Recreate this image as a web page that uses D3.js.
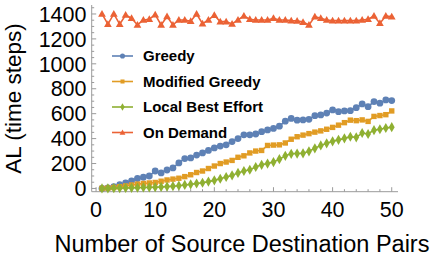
<!DOCTYPE html>
<html><head><meta charset="utf-8">
<script src="https://cdn.jsdelivr.net/npm/d3@7/dist/d3.min.js"></script>
<style>body{margin:0;background:#fff}svg{display:block}</style>
</head><body>
<svg id="c" width="436" height="258"></svg>
<script>
const pairs = d3.range(1, 51);
const greedy = [0,5,14,30,45,60,80,90,100,140,125,148,165,205,240,245,268,285,305,325,340,350,376,400,430,430,437,456,470,482,500,540,562,548,550,555,584,590,605,630,616,622,624,648,678,656,697,684,710,705];
const modifiedGreedy = [0,3,8,14,20,28,35,40,44,48,58,68,75,82,95,110,128,140,160,180,200,212,225,250,262,285,300,305,345,348,350,365,395,415,428,440,452,462,475,490,508,528,548,544,550,538,578,585,592,622];
const localBestEffort = [0,1,2,3,4,5,6,8,9,10,12,15,18,22,28,33,40,46,55,65,78,92,105,125,140,150,172,190,200,212,235,262,278,280,282,298,322,345,362,378,390,402,415,410,445,437,468,475,485,492];
const onDemand = [1400,1318,1400,1318,1392,1366,1312,1352,1358,1395,1312,1380,1312,1352,1352,1342,1400,1322,1352,1390,1339,1339,1320,1352,1384,1358,1352,1352,1352,1366,1352,1352,1347,1345,1335,1312,1379,1366,1352,1347,1347,1347,1347,1347,1352,1358,1384,1326,1384,1379];
const seriesNames = ["Greedy","Modified Greedy","Local Best Effort","On Demand"];
const colors = ["#5E81B5","#E19C24","#8FB032","#EB6235"];
const xTicks = [0,10,20,30,40,50];
const yTicks = [0,200,400,600,800,1000,1200,1400];
const xTitle = "Number of Source Destination Pairs";
const yTitle = "AL (time steps)";

const svg = d3.select("#c");
const x = d3.scaleLinear().domain([-0.74, 51.06]).range([91.7, 398]);
const y = d3.scaleLinear().domain([-26, 1472]).range([191.7, 5]);
const axisColor = "#9a9a9a";
const font = "'Liberation Sans', Arial, sans-serif";

// axes lines
svg.append("line").attr("x1", x.range()[0]).attr("x2", x.range()[1]).attr("y1", y.range()[0]).attr("y2", y.range()[0]).attr("stroke", axisColor).attr("stroke-width", 1);
svg.append("line").attr("x1", x.range()[0]).attr("x2", x.range()[0]).attr("y1", y.range()[0]).attr("y2", y.range()[1]).attr("stroke", axisColor).attr("stroke-width", 1);

// x ticks
const xMinor = d3.range(0, 51, 2).filter(v => v % 10 !== 0);
svg.selectAll(".xt").data(xTicks).join("line").attr("x1", d => x(d)).attr("x2", d => x(d)).attr("y1", y.range()[0]).attr("y2", y.range()[0] - 4.5).attr("stroke", axisColor);
svg.selectAll(".xm").data(xMinor).join("line").attr("x1", d => x(d)).attr("x2", d => x(d)).attr("y1", y.range()[0]).attr("y2", y.range()[0] - 2.5).attr("stroke", axisColor);
svg.selectAll(".xl").data(xTicks).join("text").attr("x", d => x(d)).attr("y", 216.5).attr("text-anchor", "middle").attr("font-family", font).attr("font-size", 21.5).attr("fill", "#000").text(d => d);

// y ticks
const yMinor = d3.range(0, 1451, 50).filter(v => v % 200 !== 0);
svg.selectAll(".yt").data(yTicks).join("line").attr("x1", x.range()[0]).attr("x2", x.range()[0] + 4.5).attr("y1", d => y(d)).attr("y2", d => y(d)).attr("stroke", axisColor);
svg.selectAll(".ym").data(yMinor).join("line").attr("x1", x.range()[0]).attr("x2", x.range()[0] + 2.5).attr("y1", d => y(d)).attr("y2", d => y(d)).attr("stroke", axisColor);
svg.selectAll(".yl").data(yTicks).join("text").attr("x", 86.5).attr("y", d => y(d)).attr("dy", "0.36em").attr("text-anchor", "end").attr("font-family", font).attr("font-size", 21.5).attr("fill", "#000").text(d => d);

// titles
svg.append("text").attr("x", 242).attr("y", 251.5).attr("text-anchor", "middle").attr("font-family", font).attr("font-size", 23.5).attr("fill", "#000").text(xTitle);
svg.append("text").attr("transform", "translate(21,98.5) rotate(-90)").attr("text-anchor", "middle").attr("font-family", font).attr("font-size", 22.5).attr("fill", "#000").text(yTitle);

// marker functions
function marker(g, kind, cx, cy, s, color) {
  if (kind === 0) g.append("circle").attr("cx", cx).attr("cy", cy).attr("r", 3.4 * s).attr("fill", color);
  else if (kind === 1) g.append("rect").attr("x", cx - 2.7 * s).attr("y", cy - 2.7 * s).attr("width", 5.4 * s).attr("height", 5.4 * s).attr("fill", color);
  else if (kind === 2) g.append("path").attr("d", d3.symbol(d3.symbolDiamond, 30 * s * s)()).attr("transform", `translate(${cx},${cy})`).attr("fill", color);
  else g.append("path").attr("d", d3.symbol(d3.symbolTriangle, 26 * s * s)()).attr("transform", `translate(${cx},${cy + 0.6 * s})`).attr("fill", color);
}

const allSeries = [greedy, modifiedGreedy, localBestEffort, onDemand];
const line = d3.line().x((d, i) => x(pairs[i])).y(d => y(d));
allSeries.forEach((vals, k) => {
  const g = svg.append("g");
  g.append("path").attr("d", line(vals)).attr("fill", "none").attr("stroke", colors[k]).attr("stroke-width", 1.6);
  vals.forEach((v, i) => marker(g, k, x(pairs[i]), y(v), 1, colors[k]));
});

// legend
const legY = [56, 81.5, 107, 132.5];
seriesNames.forEach((name, k) => {
  const g = svg.append("g");
  g.append("line").attr("x1", 112).attr("x2", 133).attr("y1", legY[k]).attr("y2", legY[k]).attr("stroke", colors[k]).attr("stroke-width", 1.6);
  marker(g, k, 122.5, legY[k], 0.75, colors[k]);
  g.append("text").attr("x", 143).attr("y", legY[k]).attr("dy", "0.36em").attr("font-family", font).attr("font-weight", "bold").attr("font-size", 15).attr("fill", "#000").text(name);
});
</script>
</body></html>
